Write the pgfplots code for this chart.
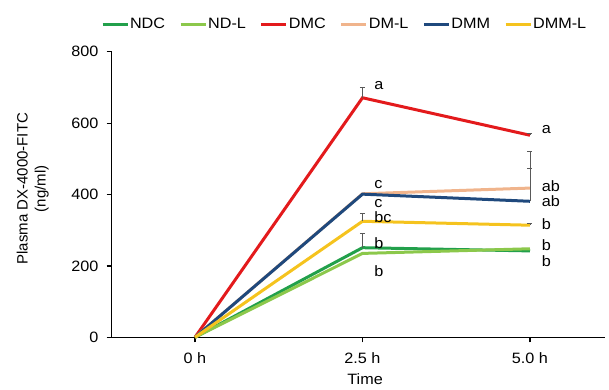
\documentclass[border=0pt]{standalone}
\usepackage{fontspec}
\setmainfont[FakeStretch=1.08]{Liberation Sans}
\newfontfamily\ylabfont{Liberation Sans}
\usepackage{pgfplots}
\pgfplotsset{compat=1.18}
\definecolor{cNDC}{HTML}{22A04B}
\definecolor{cNDL}{HTML}{8CC84B}
\definecolor{cDMC}{HTML}{E31A1C}
\definecolor{cDML}{HTML}{F0B48C}
\definecolor{cDMM}{HTML}{1F497D}
\definecolor{cDMML}{HTML}{F5C31E}
\newcommand{\fs}{\fontsize{15}{18}\selectfont}
\begin{document}
\fs
\begin{tikzpicture}
\path[use as bounding box] (-111.7pt,-51.7pt) rectangle (497.3pt,337.3pt);
\begin{axis}[
  at={(0,0)}, anchor=south west,
  scale only axis, width=493pt, height=285.6pt,
  xmin=-1.243, xmax=6.115, ymin=0, ymax=800,
  axis x line=bottom, axis y line=left,
  x axis line style={-, line width=1.6pt},
  y axis line style={-, line width=1.6pt},
  xtick={0,2.5,5}, xticklabels={0 h,2.5 h,5.0 h},
  ytick={0,200,400,600,800},
  tick align=outside,
  major tick length=5pt,
  tick style={line width=1.2pt, black},
  /pgf/number format/assume math mode=true,
  ticklabel style={font=\fs},
  yticklabel style={xshift=-3pt},
  xticklabel style={yshift=-5pt},
  xlabel={Time},
  xlabel style={at={(axis description cs:0.514,-0.148)}, anchor=center, font=\fs},
  ylabel={Plasma DX-4000-FITC\\(ng/ml)},
  ylabel style={at={(axis description cs:-0.16,0.52)}, anchor=center, align=center, font=\ylabfont\fs},
  legend columns=6,
  legend image code/.code={\draw[#1] (0pt,0pt) -- (25pt,0pt);},
  legend style={at={(axis description cs:-0.022,1.095)}, anchor=west, draw=none, fill=none,
    font=\fs, inner sep=0pt, nodes={inner sep=1pt},
    /tikz/every even column/.append style={column sep=13pt}},
  clip=false,
]
\addplot[cNDC, line width=3pt] coordinates {(0,0) (2.5,251) (5,242)};
\addlegendentry{NDC}
\addplot[cNDL, line width=3pt] coordinates {(0,0) (2.5,235) (5,248)};
\addlegendentry{ND-L}
\addplot[cDMC, line width=3pt] coordinates {(0,0) (2.5,671) (5,566)};
\addlegendentry{DMC}
\addplot[cDML, line width=3pt] coordinates {(0,0) (2.5,402) (5,418)};
\addlegendentry{DM-L}
\addplot[cDMM, line width=3pt] coordinates {(0,0) (2.5,401) (5,381)};
\addlegendentry{DMM}
\addplot[cDMML, line width=3pt] coordinates {(0,0) (2.5,325) (5,314)};
\addlegendentry{DMM-L}
% error bars (upper only)
\addplot[draw=none, mark=none, forget plot,
  error bars/.cd, y dir=plus, y explicit,
  error bar style={draw=black!65, line width=0.8pt},
  error mark options={draw=black!65, line width=0.8pt, rotate=90, mark size=2.5pt}]
  coordinates {(2.5,251) +- (0,40) (2.5,671) +- (0,30) (5,566) +- (0,5)
               (5,418) +- (0,104) (5,381) +- (0,92) (2.5,325) +- (0,22) (5,314) +- (0,6)};
% significance letters
\node[anchor=west, font=\fs] at (axis cs:2.6,705) {a};
\node[anchor=west, font=\fs] at (axis cs:2.6,427) {c};
\node[anchor=west, font=\fs] at (axis cs:2.6,375) {c};
\node[anchor=west, font=\fs] at (axis cs:2.6,336) {bc};
\node[anchor=west, font=\fs] at (axis cs:2.6,265) {b};
\node[anchor=west, font=\fs] at (axis cs:2.6,186) {b};
\node[anchor=west, font=\fs] at (axis cs:5.1,583) {a};
\node[anchor=west, font=\fs] at (axis cs:5.1,424) {ab};
\node[anchor=west, font=\fs] at (axis cs:5.1,382) {ab};
\node[anchor=west, font=\fs] at (axis cs:5.1,317) {b};
\node[anchor=west, font=\fs] at (axis cs:5.1,257) {b};
\node[anchor=west, font=\fs] at (axis cs:5.1,212) {b};
\end{axis}
\end{tikzpicture}
\end{document}
